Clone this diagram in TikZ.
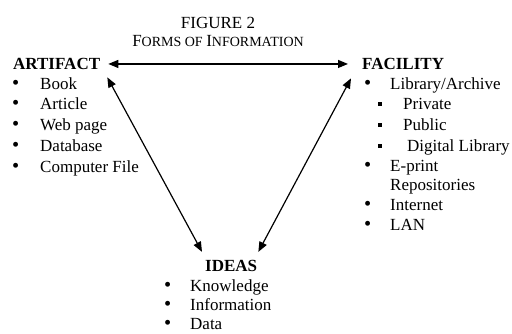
\documentclass[tikz,border=0pt]{standalone}
\usepackage{fontspec}
\setmainfont{Liberation Serif}
\usetikzlibrary{arrows.meta}
\tikzset{
  txt/.style={anchor=base west, inner sep=0pt, font=\fontsize{17}{20}\selectfont},
  head/.style={txt, font=\fontsize{17}{20}\selectfont\bfseries},
  sqb/.style={fill=black, inner sep=0pt, minimum size=4.3pt, draw=none},
  link/.style={line width=1.2pt, {Triangle[length=10pt,width=8pt]}-{Triangle[length=10pt,width=8pt]}},
}
\newcommand{\bul}[1]{\makebox[#1][l]{\scalebox{1.2}{•}}}
\newcommand{\smc}{\fontsize{14}{16}\selectfont}
\begin{document}
\begin{tikzpicture}[x=1pt,y=1pt]
\useasboundingbox (0,0) rectangle (512,-333);
% title
\node[txt, anchor=base] (t1) at (218,-28) {FIGURE 2};
\node[txt, anchor=base] (t2) at (218,-46.7) {F{\smc ORMS OF }I{\smc NFORMATION}};
% artifact
\node[head] (art) at (13,-69.5) {ARTIFACT};
\node[txt] (a1) at (12,-89) {\bul{28pt}Book};
\node[txt] (a2) at (12,-109.8) {\bul{28pt}Article};
\node[txt] (a3) at (12,-130.6) {\bul{28pt}Web page};
\node[txt] (a4) at (12,-151.4) {\bul{28pt}Database};
\node[txt] (a5) at (12,-172.2) {\bul{28pt}Computer File};
% facility
\node[head] (fac) at (362,-69.5) {FACILITY};
\node[txt] (f1) at (364,-89) {\bul{26pt}Library/Archive};
\node[sqb] (s1) at (380,-104) {};
\node[txt] (f2) at (403,-109.8) {Private};
\node[sqb] (s2) at (380,-125) {};
\node[txt] (f3) at (403,-130.6) {Public};
\node[sqb] (s3) at (380,-146) {};
\node[txt] (f4) at (407,-151.4) {Digital Library};
\node[txt] (f5) at (364,-171) {\bul{26pt}E-print};
\node[txt] (f6) at (390,-190.5) {Repositories};
\node[txt] (f7) at (364,-210.5) {\bul{26pt}Internet};
\node[txt] (f8) at (364,-230.5) {\bul{26pt}LAN};
% ideas
\node[head] (ideas) at (205,-271.2) {IDEAS};
\node[txt] (i1) at (164,-291) {\bul{26pt}Knowledge};
\node[txt] (i2) at (164,-310.5) {\bul{26pt}Information};
\node[txt] (i3) at (164,-329.5) {\bul{26pt}Data};
% connectors
\draw[link] ([xshift=8]art.east) -- ([xshift=-14]fac.west);
\draw[link] ([shift={(7,-7.5)}]art.south east) -- ([shift={(-3,7.9)}]ideas.north west);
\draw[link] ([shift={(-11,-8.5)}]fac.south west) -- ([shift={(1,7.9)}]ideas.north east);
\end{tikzpicture}
\end{document}
